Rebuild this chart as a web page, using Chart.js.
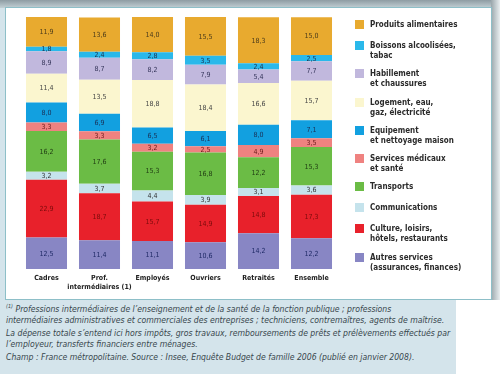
<!DOCTYPE html>
<html><head><meta charset="utf-8">
<script src="https://cdn.jsdelivr.net/npm/chart.js@4.4.1/dist/chart.umd.min.js"></script>
<style>
html,body{margin:0;padding:0;}
body{width:500px;height:374px;position:relative;overflow:hidden;background:#d4e4eb;font-family:"DejaVu Sans Condensed","Liberation Sans Narrow",sans-serif;}
#topband{position:absolute;left:0;top:0;width:500px;height:8px;background:linear-gradient(#8e9ca3,#c3d0d5);}
#rshadow{position:absolute;left:491px;top:0;width:9px;height:300px;background:linear-gradient(90deg,#9aa6ab,#e9eef0);}
#brwhite{position:absolute;left:456px;top:300px;width:44px;height:74px;background:#fff;}
#panel{position:absolute;left:5px;top:7px;width:485px;height:291px;background:#fff;border:1px solid #8dbfc8;}
#wrap{position:absolute;left:0;top:0;width:500px;height:300px;}
#legend{position:absolute;left:355px;top:20px;color:#2b2b2b;font-weight:bold;font-size:8px;line-height:10px;}
.item{display:flex;align-items:flex-start;min-height:12.7px;margin-bottom:8.3px;}
.sw{width:9px;height:9px;margin-right:6px;flex:none;}
#notes{position:absolute;left:6px;top:304px;width:460px;color:#38474d;font-style:italic;font-size:8.6px;line-height:11px;}
#notes p{margin:0 0 2px 0;white-space:nowrap;}
sup{font-size:5.5px;line-height:0;vertical-align:4px;}
</style></head>
<body>
<div id="topband"></div><div id="rshadow"></div><div id="brwhite"></div>
<div id="panel"></div>
<div id="wrap"><canvas id="c" width="500" height="300"></canvas></div>
<div id="legend"></div>
<div id="notes">
<p><sup>(1)</sup> Professions intermédiaires de l’enseignement et de la santé de la fonction publique ; professions<br>intermédiaires administratives et commerciales des entreprises ; techniciens, contremaîtres, agents de maîtrise.</p>
<p>La dépense totale s’entend ici hors impôts, gros travaux, remboursements de prêts et prélèvements effectués par<br>l’employeur, transferts financiers entre ménages.</p>
<p>Champ : France métropolitaine. Source : Insee, Enquête Budget de famille 2006 (publié en janvier 2008).</p>
</div>
<script>
// Categories (x axis)
const categories = [["Cadres"], ["Prof.", "intermédiaires (1)"], ["Employés"], ["Ouvriers"], ["Retraités"], ["Ensemble"]];
// Series, stacked from bottom to top
const autresServices   = [12.5, 11.4, 11.1, 10.6, 14.2, 12.2];
const culture          = [22.9, 18.7, 15.7, 14.9, 14.8, 17.3];
const communications   = [3.2, 3.7, 4.4, 3.9, 3.1, 3.6];
const transports       = [16.2, 17.6, 15.3, 16.8, 12.2, 15.3];
const servicesMedicaux = [3.3, 3.3, 3.2, 2.5, 4.9, 3.5];
const equipement       = [8.0, 6.9, 6.5, 6.1, 8.0, 7.1];
const logement         = [11.4, 13.5, 18.8, 18.4, 16.6, 15.7];
const habillement      = [8.9, 8.7, 8.2, 7.9, 5.4, 7.7];
const boissons         = [1.8, 2.4, 2.8, 3.5, 2.4, 2.5];
const produitsAlim     = [11.9, 13.6, 14.0, 15.5, 18.3, 15.0];

const series = [
  {name:["Autres services", "(assurances, finances)"], data:autresServices, color:"#8886c4", text:"#1f2a66"},
  {name:["Culture, loisirs,", "hôtels, restaurants"], data:culture, color:"#e8212b", text:"#7a0b0b"},
  {name:["Communications"], data:communications, color:"#c5e3ec", text:"#333"},
  {name:["Transports"], data:transports, color:"#6bbc45", text:"#1f3a12"},
  {name:["Services médicaux", "et santé"], data:servicesMedicaux, color:"#ef8280", text:"#6a1a1a"},
  {name:["Equipement", "et nettoyage maison"], data:equipement, color:"#12a0e0", text:"#1a2f55"},
  {name:["Logement, eau,", "gaz, électricité"], data:logement, color:"#fbf6cf", text:"#444"},
  {name:["Habillement", "et chaussures"], data:habillement, color:"#c1b8dd", text:"#35355a"},
  {name:["Boissons alcoolisées,", "tabac"], data:boissons, color:"#2ab8ea", text:"#1a3050"},
  {name:["Produits alimentaires"], data:produitsAlim, color:"#e8aa2f", text:"#4a3a1a"}
];

const FONT = '"DejaVu Sans Condensed","Liberation Sans Narrow",sans-serif';

const labelPlugin = {
  id:'segLabels',
  afterDatasetsDraw(chart){
    const ctx = chart.ctx;
    ctx.save();
    ctx.font = '7px ' + FONT;
    ctx.textAlign = 'center';
    ctx.textBaseline = 'middle';
    chart.data.datasets.forEach((ds, i) => {
      const meta = chart.getDatasetMeta(i);
      meta.data.forEach((bar, j) => {
        const p = bar.getProps(['x','y','base'], true);
        ctx.fillStyle = series[i].text;
        ctx.fillText(ds.data[j].toFixed(1).replace('.', ','), p.x, (p.y + p.base)/2 + 0.5);
      });
    });
    ctx.restore();
  }
};

new Chart(document.getElementById('c'), {
  type:'bar',
  data:{
    labels: categories,
    datasets: series.map(s => ({label:s.name.join(' '), data:s.data, backgroundColor:s.color, borderWidth:0,
      barPercentage:0.774, categoryPercentage:1.0}))
  },
  options:{
    responsive:false, animation:false, maintainAspectRatio:false,
    layout:{padding:{left:20, right:162, top:17, bottom:1}},
    plugins:{legend:{display:false}, tooltip:{enabled:false}},
    scales:{
      x:{stacked:true, grid:{display:false, drawTicks:false}, border:{display:false},
         ticks:{color:'#222', font:{family:FONT, size:7, weight:'bold', lineHeight:1.35}, padding:4, maxRotation:0, autoSkip:false},
         afterFit:(s)=>{ s.height = 30; }},
      y:{stacked:true, display:false, min:0, max:100}
    }
  },
  plugins:[labelPlugin]
});

// legend (top to bottom = reverse stacking order)
const leg = document.getElementById('legend');
series.slice().reverse().forEach(s => {
  const it = document.createElement('div'); it.className='item';
  const sw = document.createElement('div'); sw.className='sw'; sw.style.background = s.color;
  const tx = document.createElement('div'); tx.innerHTML = s.name.join('<br>');
  it.appendChild(sw); it.appendChild(tx); leg.appendChild(it);
});
</script>
</body></html>
